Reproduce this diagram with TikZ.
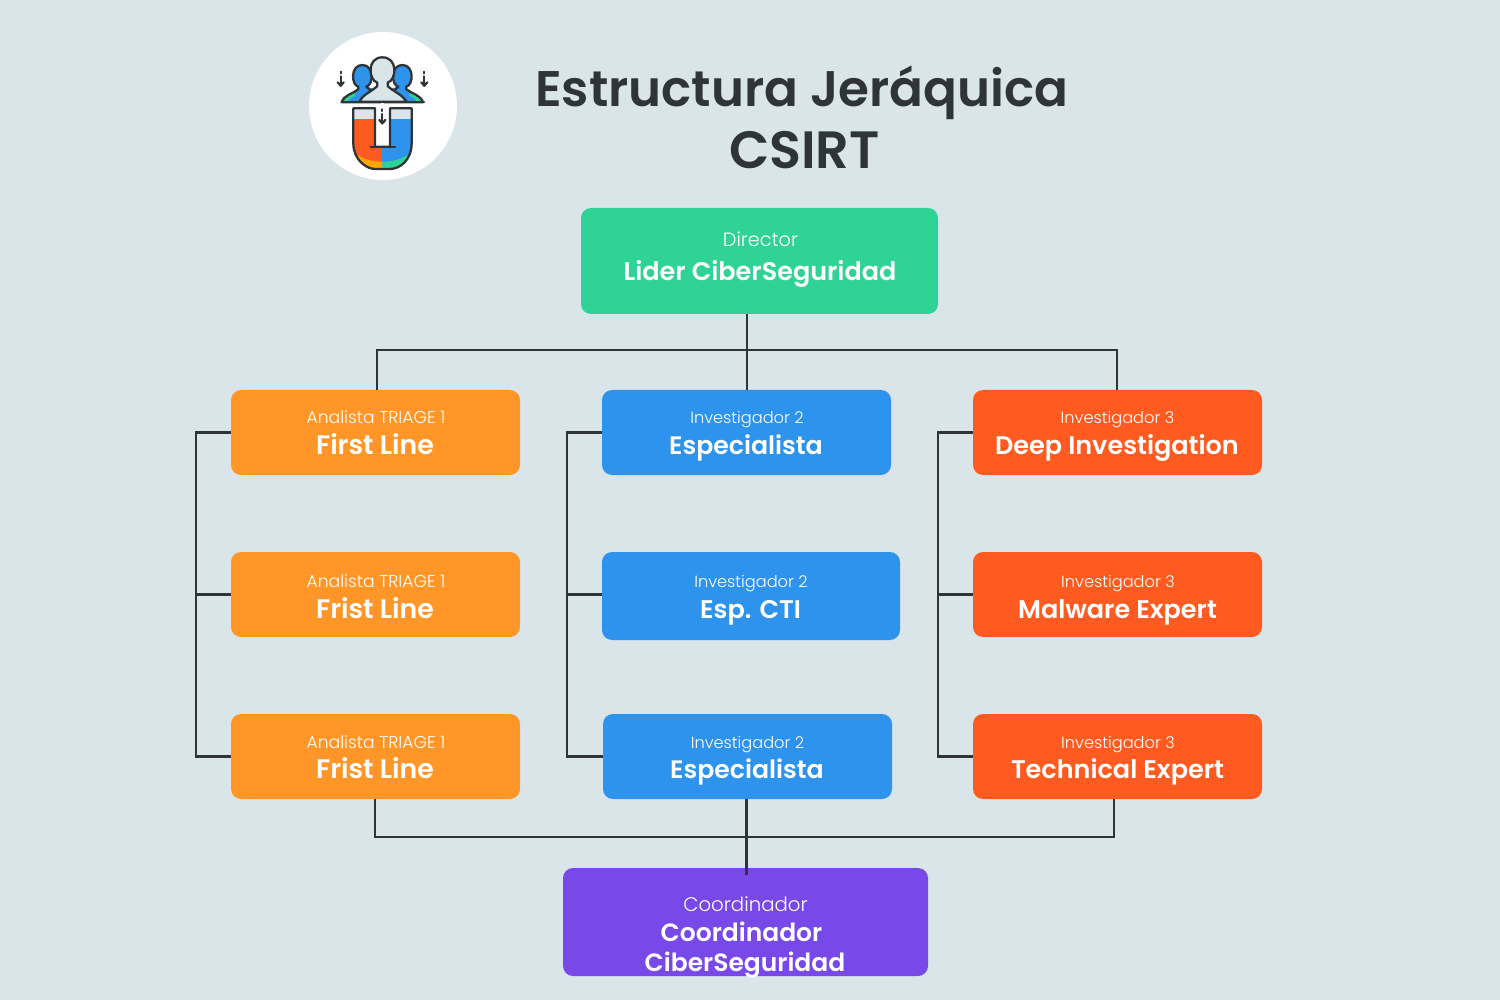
\documentclass[tikz,border=0pt]{standalone}
\usepackage{fontspec}
\setmainfont{Poppins}
\newfontfamily\lightfont{Poppins Light}
\newfontfamily\heavyfont{Poppins SemiBold}
\usetikzlibrary{positioning}

\definecolor{bgcol}{HTML}{DAE5EA}
\definecolor{linecol}{HTML}{2F3437}
\definecolor{greencol}{HTML}{30D396}
\definecolor{orangecol}{HTML}{FF9627}
\definecolor{bluecol}{HTML}{2E93EC}
\definecolor{redcol}{HTML}{FF5A1F}
\definecolor{purplecol}{HTML}{7849E8}
\definecolor{ambercol}{HTML}{FFA400}

\begin{document}
\begin{tikzpicture}[x=1pt, y=-1pt,
                    box/.style={rectangle,rounded corners=10pt,inner sep=0pt,minimum width=289pt,minimum height=85pt},
                    rolelabel/.style={anchor=base,text=white,font=\lightfont\fontsize{16.2}{18}\selectfont,inner sep=0pt},
                    triagelabel/.style={rolelabel,font=\lightfont\fontsize{17.2}{18}\selectfont},
                    namelabel/.style={anchor=base,text=white,font=\heavyfont\fontsize{25.5}{30}\selectfont,inner sep=0pt},
                    linelabel/.style={namelabel,font=\heavyfont\fontsize{26.8}{30}\selectfont},
                    titlelabel/.style={anchor=base,text=linecol,font=\heavyfont\fontsize{50}{56}\selectfont,inner sep=0pt},
                    wire/.style={draw=linecol,line width=2.5pt},
                    icon/.style={draw=linecol,line width=2.3pt,line join=round,line cap=round}]

  \useasboundingbox[fill=bgcol] (0,0) rectangle (1500,1000);

  % logo
  \node[circle,fill=white,minimum size=148pt,inner sep=0pt] (logo) at (383,106) {};
  \begin{scope}[shift={(300,20)},x=0.3333pt,y=-0.3333pt]
    % side persons
    \foreach \side/\dir in {187/1,307/-1} {
      \begin{scope}[shift={(\side,0)},x=\dir*0.3333pt]
        \fill[bluecol] (0,135) .. controls (-36,135) and (-34,195) .. (-12,200)
          -- (-12,208) .. controls (-30,222) and (-55,225) .. (-62,247) -- (50,247) -- (40,208) -- (12,200)
          .. controls (34,195) and (36,135) .. (0,135) -- cycle;
        \fill[greencol] (-62,247) .. controls (-52,228) and (-40,224) .. (-25,218) -- (-20,228)
          .. controls (-35,232) and (-42,238) .. (-45,247) -- cycle;
        \draw[icon] (30,222) -- (23,210) -- (12,200) .. controls (34,195) and (36,135) .. (0,135)
          .. controls (-36,135) and (-34,195) .. (-12,200) -- (-12,208)
          .. controls (-30,222) and (-55,225) .. (-62,247) -- (55,247);
      \end{scope}
    }
    % middle person
    \filldraw[icon,fill=bgcol] (247,112) .. controls (200,112) and (205,180) .. (232,188)
      -- (232,198) .. controls (215,215) and (190,222) .. (178,245) -- (320,245)
      .. controls (305,222) and (280,215) .. (263,198) -- (263,188)
      .. controls (290,180) and (295,112) .. (247,112) -- cycle;
    \draw[icon] (125,247) -- (372,247);
    % magnet
    \begin{scope}
      \clip (160,265) -- (160,370) .. controls (160,420) and (200,447) .. (225,447) -- (270,447)
        .. controls (300,447) and (335,420) .. (335,370) -- (335,265) -- (270,265) -- (270,380)
        -- (225,380) -- (225,265) -- cycle;
      \fill[redcol] (150,255) rectangle (247,455);
      \fill[bluecol] (247,255) rectangle (345,455);
      \fill[bgcol] (150,255) rectangle (345,297);
      \fill[ambercol] (150,385) .. controls (175,415) and (210,425) .. (247,425) -- (247,455) -- (150,455) -- cycle;
      \fill[greencol] (345,385) .. controls (320,415) and (285,425) .. (247,425) -- (247,455) -- (345,455) -- cycle;
    \end{scope}
    \draw[icon] (160,265) -- (160,370) .. controls (160,420) and (200,447) .. (225,447) -- (270,447)
      .. controls (300,447) and (335,420) .. (335,370) -- (335,265) -- (270,265) -- (270,380)
      -- (225,380) -- (225,265) -- cycle;
    \draw[icon] (212,380) -- (285,380);
    % small arrows
    \foreach \ax/\ay in {122/155,373/155,247/268} {
      \draw[icon] (\ax,\ay) -- (\ax,\ay+5);
      \draw[icon] (\ax,\ay+14) -- (\ax,\ay+42);
      \draw[icon] (\ax-9,\ay+32) -- (\ax,\ay+42) -- (\ax+9,\ay+32);
    }
  \end{scope}

  % title
  \node[titlelabel] (title1) at (802,106.5) {Estructura Jeráquica};
  \node[titlelabel,font=\heavyfont\fontsize{52.5}{56}\selectfont] (title2) at (804.5,168.5) {CSIRT};

  % boxes
  \node[box,fill=greencol,minimum width=357pt,minimum height=106pt] (dir) at (759.5,261) {};
  \node[box,fill=orangecol] (a1) at (375.5,432.5) {};
  \node[box,fill=orangecol] (a2) at (375.5,594.5) {};
  \node[box,fill=orangecol] (a3) at (375.5,756.5) {};
  \node[box,fill=bluecol] (b1) at (746.5,432.5) {};
  \node[box,fill=bluecol,minimum width=298pt,minimum height=88pt] (b2) at (751,596) {};
  \node[box,fill=bluecol] (b3) at (747.5,756.5) {};
  \node[box,fill=redcol] (c1) at (1117.5,432.5) {};
  \node[box,fill=redcol] (c2) at (1117.5,594.5) {};
  \node[box,fill=redcol] (c3) at (1117.5,756.5) {};
  \node[box,fill=purplecol,minimum width=365pt,minimum height=108pt] (coord) at (745.5,922) {};

  % junctions and corners
  \coordinate (top) at (747,350);
  \coordinate (topl) at (377,350);
  \coordinate (topr) at (1117,350);
  \coordinate (lowl) at (375,837);
  \coordinate (lowr) at (1114,837);
  \coordinate (lefta) at (196,432.5);
  \coordinate (leftb) at (196,756.5);
  \coordinate (midb) at (567,432.5);
  \coordinate (midc) at (567,756.5);
  \coordinate (rightb) at (938,432.5);
  \coordinate (rightc) at (938,756.5);

  % connectors
  \draw[wire] (dir.south -| top) -- (top);
  \draw[wire] (a1.north -| topl) -- (topl) -- (topr) -- (c1.north -| topr);
  \draw[wire] (top) -- (b1.north -| top);
  \draw[wire] (a1.west) -- (lefta) -- (leftb) -- (a3.west);
  \draw[wire] (a2.west) -- (a2.west -| lefta);
  \draw[wire] (b1.west) -- (midb) -- (midc) -- (b3.west);
  \draw[wire] (b2.west |- a2.west) -- (a2.west -| midb);
  \draw[wire] (c1.west) -- (rightb) -- (rightc) -- (c3.west);
  \draw[wire] (c2.west) -- (c2.west -| rightb);
  \draw[wire] (a3.south -| lowl) -- (lowl) -- (lowr) -- (c3.south -| lowr);
  \draw[wire] (b1.center |- b3.south) -- ([yshift=-7pt]coord.north -| b1.center);

  % labels
  \node[rolelabel,font=\lightfont\fontsize{19.3}{20}\selectfont] (dirr) at (760.5,247) {Director};
  \node[namelabel] (dirn) at (760,281) {Lider CiberSeguridad};
  \node[triagelabel] (a1r) at (376,423) {Analista TRIAGE 1};
  \node[linelabel] (a1n) at (375,454) {First Line};
  \node[triagelabel] (a2r) at (376,587) {Analista TRIAGE 1};
  \node[linelabel] (a2n) at (375,618) {Frist Line};
  \node[triagelabel] (a3r) at (376,748) {Analista TRIAGE 1};
  \node[linelabel] (a3n) at (375,778.5) {Frist Line};
  \node[rolelabel] (b1r) at (747,423) {Investigador 2};
  \node[namelabel,font=\heavyfont\fontsize{25.2}{30}\selectfont] (b1n) at (746,454) {Especialista};
  \node[rolelabel] (b2r) at (751,587) {Investigador 2};
  \node[namelabel] (b2n) at (750.5,618.5) {Esp. CTI};
  \node[rolelabel] (b3r) at (747.5,748) {Investigador 2};
  \node[namelabel,font=\heavyfont\fontsize{25.2}{30}\selectfont] (b3n) at (747,778.5) {Especialista};
  \node[rolelabel] (c1r) at (1117.5,423) {Investigador 3};
  \node[namelabel] (c1n) at (1117,454) {Deep Investigation};
  \node[rolelabel] (c2r) at (1118,587) {Investigador 3};
  \node[namelabel] (c2n) at (1117.5,618) {Malware Expert};
  \node[rolelabel] (c3r) at (1118,748) {Investigador 3};
  \node[namelabel] (c3n) at (1117.5,778.5) {Technical Expert};
  \node[rolelabel,font=\lightfont\fontsize{19.7}{22}\selectfont] (coordr) at (745.5,911) {Coordinador};
  \node[namelabel,font=\heavyfont\fontsize{25}{30}\selectfont] (coordn) at (741.5,941) {Coordinador};
  \node[namelabel,font=\heavyfont\fontsize{25}{30}\selectfont] (coordm) at (745,971) {CiberSeguridad};
\end{tikzpicture}
\end{document}
